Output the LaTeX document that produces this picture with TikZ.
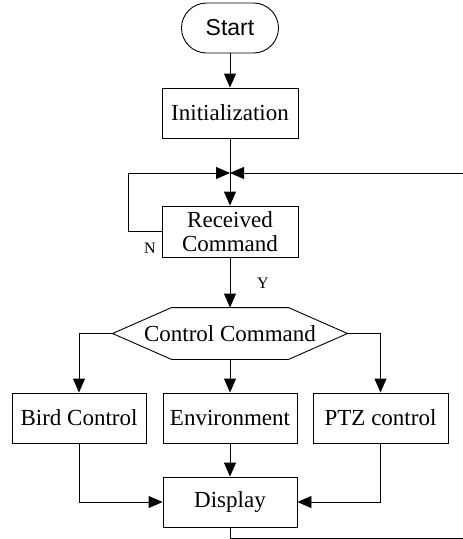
\documentclass[tikz,border=0pt]{standalone}
\usepackage{fontspec}
\setmainfont{Liberation Serif}
\newfontfamily\startfont{Liberation Sans}
\usetikzlibrary{arrows.meta}
\begin{document}
\begin{tikzpicture}[x=1pt,y=-1pt,
  line width=0.9pt,
  every node/.style={font=\fontsize{23}{26}\selectfont},
  box/.style={draw, minimum width=134pt, minimum height=50pt, inner sep=0pt, align=center},
  arr/.style={-{Triangle[length=14pt,width=12pt]}},
  lbl/.style={font=\fontsize{16}{18}\selectfont}]
\useasboundingbox (0,0) rectangle (463,539);
\node[draw, rounded corners=25pt, minimum width=97pt, minimum height=50pt, inner sep=0pt, font=\startfont\fontsize{23}{26}\selectfont] (start) at (230,28) {Start};
\node[box, minimum width=136pt] (init) at (230,113) {Initialization};
\coordinate (J) at (230,173);
\node[box, minimum width=136pt, minimum height=51pt] (recv) at (230,231.5) {Received\\[-2pt]Command};
\node[minimum width=234pt, minimum height=51pt, inner sep=0pt] (cc) at (230,333.5) {Control Command};
\draw (cc.west) -- ([xshift=59pt]cc.north west) -- ([xshift=-59pt]cc.north east) -- (cc.east) -- ([xshift=-59pt]cc.south east) -- ([xshift=59pt]cc.south west) -- cycle;
\node[box] (bird) at (79,418) {Bird Control};
\node[box] (env) at (230,418) {Environment};
\node[box, minimum width=135pt] (ptz) at (380.5,418) {PTZ control};
\node[box] (disp) at (230,502) {Display};
\coordinate (L) at (128,173);
\coordinate (BR) at (467,538);
\coordinate (TR) at (467,173);
\node[lbl] (N) at (150,248) {N};
\node[lbl] (Y) at (263,283) {Y};
\draw[arr] (start) -- (init);
\draw[arr] (init) -- (recv);
\draw[arr] (recv.west) -| (L) -- (J);
\draw[arr] (disp.south) |- (BR) -- (TR) -- (J);
\draw[arr] (recv) -- (cc.north);
\draw[arr] (cc.west) -| (bird.north);
\draw[arr] (cc.south) -- (env.north);
\draw[arr] (cc.east) -| (ptz.north);
\draw[arr] (env) -- (disp);
\draw[arr] (bird.south) |- (disp.west);
\draw[arr] (ptz.south) |- (disp.east);
\end{tikzpicture}
\end{document}
